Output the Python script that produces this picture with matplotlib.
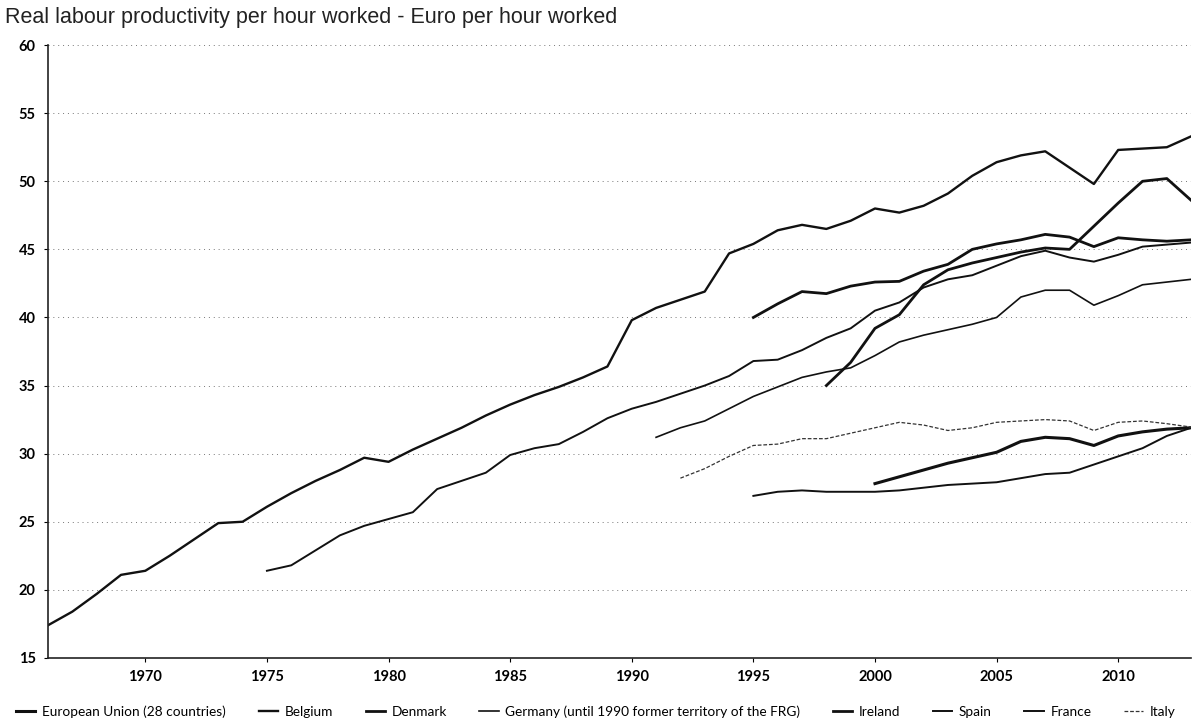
import numpy as np
import matplotlib.pyplot as plt

# values (euro per hour worked)
years_be = list(range(1966, 2014))
belgium = [17.4, 18.4, 19.7, 21.1, 21.4, 22.5, 23.7, 24.9, 25.0, 26.1,
           27.1, 28.0, 28.8, 29.7, 29.4, 30.3, 31.1, 31.9, 32.8, 33.6,
           34.3, 34.9, 35.6, 36.4, 39.8, 40.7, 41.3, 41.9, 44.7, 45.4,
           46.4, 46.8, 46.5, 47.1, 48.0, 47.7, 48.2, 49.1, 50.4, 51.4,
           51.9, 52.2, 51.0, 49.8, 52.3, 52.4, 52.5, 53.3]

years_fr = list(range(1975, 2014))
france = [21.4, 21.8, 22.9, 24.0, 24.7, 25.2, 25.7, 27.4, 28.0, 28.6,
          29.9, 30.4, 30.7, 31.6, 32.6, 33.3, 33.8, 34.4, 35.0, 35.7,
          36.8, 36.9, 37.6, 38.5, 39.2, 40.5, 41.1, 42.2, 42.8, 43.1,
          43.8, 44.5, 44.9, 44.4, 44.1, 44.6, 45.2, 45.35, 45.5]

years_de = list(range(1991, 2014))
germany = [31.2, 31.9, 32.4, 33.3, 34.2, 34.9, 35.6, 36.0, 36.3, 37.2,
           38.2, 38.7, 39.1, 39.5, 40.0, 41.5, 42.0, 42.0, 40.9, 41.6,
           42.4, 42.6, 42.8]

years_dk = list(range(1995, 2014))
denmark = [40.0, 41.0, 41.9, 41.75, 42.3, 42.6, 42.65, 43.4, 43.9, 45.0,
           45.4, 45.7, 46.1, 45.9, 45.2, 45.85, 45.7, 45.6, 45.7]

years_ie = list(range(1998, 2014))
ireland = [35.0, 36.7, 39.2, 40.2, 42.4, 43.5, 44.0, 44.4, 44.8, 45.1,
           45.0, 46.7, 48.4, 50.0, 50.2, 48.6]

years_it = list(range(1992, 2014))
italy = [28.2, 28.9, 29.8, 30.6, 30.7, 31.1, 31.1, 31.5, 31.9, 32.3,
         32.1, 31.7, 31.9, 32.3, 32.4, 32.5, 32.4, 31.7, 32.3, 32.4,
         32.2, 31.95]

years_es = list(range(1995, 2014))
spain = [26.9, 27.2, 27.3, 27.2, 27.2, 27.2, 27.3, 27.5, 27.7, 27.8,
         27.9, 28.2, 28.5, 28.6, 29.2, 29.8, 30.4, 31.3, 31.9]

years_eu = list(range(2000, 2014))
eu28 = [27.8, 28.3, 28.8, 29.3, 29.7, 30.1, 30.9, 31.2, 31.1, 30.6,
        31.3, 31.6, 31.8, 31.9]

x_ticks = list(range(1970, 2011, 5))
y_ticks = list(range(15, 61, 5))

fig = plt.figure(figsize=(11.92, 7.27), dpi=100)
ax = fig.add_axes([0.0403, 0.095, 0.959, 0.843])

for yv in y_ticks[1:]:
    ax.axhline(yv, color='#777777', lw=0.7, ls=(0, (1, 4)), zorder=1)

k = '#111111'
ax.plot(years_eu, eu28, color=k, lw=2.2, label='European Union (28 countries)')
ax.plot(years_be, belgium, color=k, lw=1.7, label='Belgium')
ax.plot(years_dk, denmark, color=k, lw=2.0, label='Denmark')
ax.plot(years_de, germany, color=k, lw=1.2,
        label='Germany (until 1990 former territory of the FRG)')
ax.plot(years_ie, ireland, color=k, lw=2.0, label='Ireland')
ax.plot(years_es, spain, color=k, lw=1.4, label='Spain')
ax.plot(years_fr, france, color=k, lw=1.4, label='France')
ax.plot(years_it, italy, color='#333333', lw=0.9, ls=(0, (3, 1.5)), label='Italy')

ax.set_xlim(1966, 2013)
ax.set_ylim(15, 60)
ax.set_xticks(x_ticks)
ax.set_yticks(y_ticks)
ax.tick_params(length=3, width=0.8, labelsize=10.5, pad=6)
for lab in ax.get_xticklabels() + ax.get_yticklabels():
    lab.set_fontfamily('Lato')
    lab.set_fontweight('bold')

for s in ['top', 'right']:
    ax.spines[s].set_visible(False)
for s in ['left', 'bottom']:
    ax.spines[s].set_linewidth(1.2)
    ax.spines[s].set_color('#222222')

fig.text(0.004, 0.99, 'Real labour productivity per hour worked - Euro per hour worked',
         ha='left', va='top', fontsize=15.5, family='Liberation Sans', color='#222222')

fig.legend(loc='center', bbox_to_anchor=(0.5, 0.021), ncol=8, frameon=False,
           prop={'family': 'Lato', 'size': 9.8}, handlelength=1.4,
           handletextpad=0.5, columnspacing=2.4)

fig.savefig('out.png', dpi=100)
